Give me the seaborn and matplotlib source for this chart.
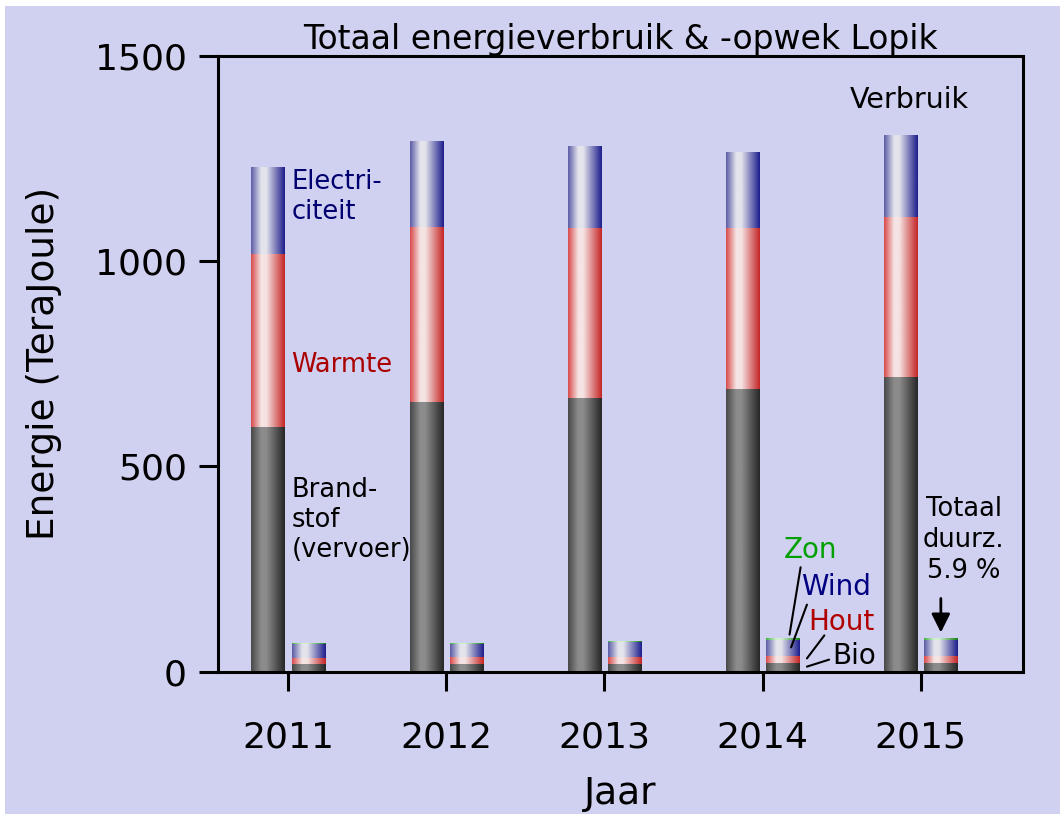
import matplotlib
matplotlib.use('Agg')
import matplotlib.pyplot as plt
from matplotlib.colors import LinearSegmentedColormap
from matplotlib.patches import Rectangle
import seaborn as sns
import pandas as pd
import numpy as np

# Data (TeraJoule)
jaren = ['2011', '2012', '2013', '2014', '2015']
# verbruik
brandstof = [595, 656, 666, 688, 717]
warmte = [422, 427, 414, 392, 390]
elektriciteit = [212, 210, 200, 186, 200]
# opwek
bio = [19, 19, 19, 20, 20]
hout = [15, 16, 16, 17, 17]
wind = [34, 33, 38, 41, 41]
zon = [0.4, 0.8, 2.5, 3.0, 3.5]

BG = '#d0d0f0'

sns.set_style('ticks')
plt.rcParams['font.family'] = ['DejaVu Sans']
plt.rcParams.update({'text.color': 'black', 'axes.labelcolor': 'black',
                     'xtick.color': 'black', 'ytick.color': 'black'})


def shade(left, light, right):
    """cylinder-like horizontal gradient"""
    return LinearSegmentedColormap.from_list('', [(0, left), (0.3, light), (0.45, light), (1, right)])


grey = shade('#484848', '#8c8c8c', '#262626')
red = shade('#d84848', '#f6e4e4', '#c42424')
blue = shade('#5a5aa6', '#e4e4ec', '#1c1c8c')
green = shade('#40b040', '#d0f0d0', '#108010')

# cumulative tops, drawn from the highest layer down
v_cum = np.cumsum([brandstof, warmte, elektriciteit], axis=0)
o_cum = np.cumsum([bio, hout, wind, zon], axis=0)
layers = [
    (v_cum[2], o_cum[3], blue, green),
    (v_cum[1], o_cum[2], red, blue),
    (v_cum[0], o_cum[1], grey, red),
    ([0] * 5, o_cum[0], None, grey),
]

fig = plt.figure(figsize=(10.6, 8.14), dpi=100)
fig.patch.set_facecolor(BG)
# thin white margin at top and left, as in the original
fig.patches.append(Rectangle((0, 808 / 814), 1, 6 / 814, transform=fig.transFigure,
                             facecolor='white', edgecolor='none'))
fig.patches.append(Rectangle((0, 0), 5 / 1060, 1, transform=fig.transFigure,
                             facecolor='white', edgecolor='none'))
ax = fig.add_axes([0.2057, 0.175, 0.7594, 0.7566])
ax.set_facecolor(BG)

grad = np.linspace(0, 1, 256).reshape(1, -1)
opwek_centres = []
for z, (v_top, o_top, v_cmap, o_cmap) in enumerate(layers):
    df = pd.DataFrame({
        'jaar': jaren * 2,
        'soort': ['Verbruik'] * 5 + ['Opwek'] * 5,
        'top': list(v_top) + list(o_top),
    })
    n_before = len(ax.patches)
    sns.barplot(data=df, x='jaar', y='top', hue='soort', order=jaren,
                hue_order=['Verbruik', 'Opwek'], dodge=True, width=0.506, gap=0.17,
                palette=['grey', 'grey'], errorbar=None, legend=False, ax=ax)
    for p in ax.patches[n_before:]:
        x0, y0 = p.get_xy()
        w, h = p.get_width(), p.get_height()
        xc = x0 + w / 2
        is_opwek = xc > round(xc)
        if is_opwek and z == 0:
            opwek_centres.append(xc)
        cmap = o_cmap if is_opwek else v_cmap
        p.set_facecolor('none')
        p.set_edgecolor('none')
        if cmap is None or h <= 0:
            continue
        im = ax.imshow(grad, cmap=cmap, extent=[x0, x0 + w, y0, y0 + h], aspect='auto',
                       interpolation='bicubic', zorder=2 + z)
        im.set_clip_path(p)

ax.set_xlim(-0.443, 4.646)
ax.set_ylim(0, 1500)
ax.set_yticks([0, 500, 1000, 1500])

for s in ax.spines.values():
    s.set_visible(True)
    s.set_linewidth(2.2)
    s.set_color('black')
    s.set_zorder(10)
ax.tick_params(axis='both', direction='out', length=13.5, width=2.2, labelsize=26, color='black',
               labelcolor='black')
ax.tick_params(axis='y', pad=9)
ax.tick_params(axis='x', pad=22)

ax.set_title('Totaal energieverbruik & -opwek Lopik', fontsize=23.8, pad=4, color='black')
ax.set_xlabel('Jaar', fontsize=27)
ax.set_ylabel('Energie (TeraJoule)', fontsize=27)
ax.xaxis.set_label_coords(0.5, -0.170)
ax.yaxis.set_label_coords(-0.194, 0.5)

# labels verbruik
ax.text(0.02, 1225, 'Electri-\nciteit', color='#000070', fontsize=18.5, va='top', ha='left')
ax.text(0.02, 746, 'Warmte', color='#aa0000', fontsize=18.5, va='center', ha='left')
ax.text(0.02, 473, 'Brand-\nstof\n(vervoer)', color='black', fontsize=18.5, va='top', ha='left')
ax.text(3.93, 1393, 'Verbruik', color='black', fontsize=20.5, va='center', ha='center')

# labels opwek
ax.text(3.30, 295, 'Zon', color='#00a000', fontsize=20, va='center', ha='center')
ax.text(3.24, 207, 'Wind', color='#000080', fontsize=20, va='center', ha='left')
ax.text(3.29, 120, 'Hout', color='#b00000', fontsize=20, va='center', ha='left')
ax.text(3.44, 39, 'Bio', color='black', fontsize=20, va='center', ha='left')
leaders = [((3.24, 254), (3.17, 90)), ((3.28, 163), (3.18, 59)),
           ((3.39, 88), (3.28, 32)), ((3.42, 29), (3.28, 12))]
for start, end in leaders:
    ax.annotate('', xy=end, xytext=start,
                arrowprops=dict(arrowstyle='-', color='black', lw=1.5, shrinkA=0, shrinkB=0))

ax.text(4.27, 428, 'Totaal\nduurz.\n5.9 %', color='black', fontsize=18.5, va='top',
        ha='center', multialignment='center', linespacing=1.25)
x_arrow = opwek_centres[-1]
ax.annotate('', xy=(x_arrow, 95), xytext=(x_arrow, 178),
            arrowprops=dict(arrowstyle='-|>', color='black', lw=2, mutation_scale=28,
                            shrinkA=0, shrinkB=0))

fig.savefig('out.png', dpi=100, facecolor=fig.get_facecolor())
